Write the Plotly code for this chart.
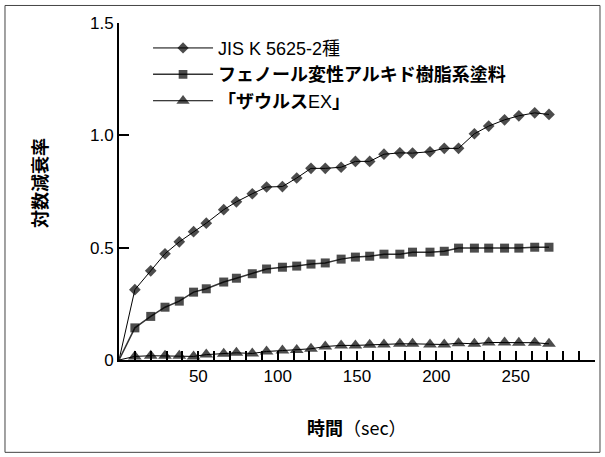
import plotly.graph_objects as go

# ---- data ----
time_sec = [0, 10, 20, 29, 38, 47, 55, 66, 74, 84, 93, 103, 112, 121, 130, 140,
            149, 158, 167, 177, 185, 196, 205, 214, 224, 233, 243, 252, 262, 271]

jis_values = [0, 0.313, 0.397, 0.473, 0.526, 0.571, 0.609, 0.669, 0.704, 0.740,
              0.770, 0.772, 0.810, 0.853, 0.853, 0.858, 0.884, 0.884, 0.916,
              0.922, 0.921, 0.927, 0.942, 0.942, 1.007, 1.041, 1.069, 1.087,
              1.100, 1.093]

phenol_values = [0, 0.143, 0.194, 0.235, 0.262, 0.302, 0.317, 0.347, 0.364,
                 0.384, 0.405, 0.413, 0.418, 0.427, 0.432, 0.449, 0.458, 0.462,
                 0.471, 0.471, 0.480, 0.480, 0.484, 0.498, 0.498, 0.498, 0.498,
                 0.498, 0.502, 0.502]

zaurus_values = [0, 0.016, 0.019, 0.019, 0.019, 0.016, 0.024, 0.028, 0.032,
                 0.029, 0.038, 0.042, 0.045, 0.050, 0.060, 0.065, 0.065, 0.068,
                 0.069, 0.072, 0.072, 0.069, 0.069, 0.075, 0.072, 0.078, 0.078,
                 0.077, 0.077, 0.072]

series_names = ["JIS K 5625-2種", "<b>フェノール変性アルキド樹脂系塗料</b>", "<b>「ザウルス</b>EX<b>」</b>"]

x_tick_vals = list(range(0, 301, 10))
x_tick_text = [str(v) if v in (50, 100, 150, 200, 250) else "" for v in x_tick_vals]
y_tick_vals = [0, 0.5, 1.0, 1.5]
y_tick_text = ["0", "0.5", "1.0", "1.5"]

FONT = "Liberation Sans, Arial, Noto Sans CJK JP, sans-serif"
CJK = "Noto Sans CJK JP, Liberation Sans, sans-serif"

def sizes(n, s):
    return [0] + [s] * (n - 1)

fig = go.Figure()
fig.add_trace(go.Scatter(
    x=time_sec, y=jis_values, name=series_names[0], mode="lines+markers",
    line=dict(color="black", width=1),
    marker=dict(symbol="diamond", color="black", size=sizes(len(time_sec), 9),
                line=dict(width=0))))
fig.add_trace(go.Scatter(
    x=time_sec, y=phenol_values, name=series_names[1], mode="lines+markers",
    line=dict(color="#333333", width=1.5),
    marker=dict(symbol="square", color="black", size=sizes(len(time_sec), 9),
                line=dict(width=0))))
fig.add_trace(go.Scatter(
    x=time_sec, y=zaurus_values, name=series_names[2], mode="lines+markers",
    line=dict(color="black", width=1),
    marker=dict(symbol="triangle-up", color="black", size=sizes(len(time_sec), 12),
                line=dict(width=0))))

fig.update_layout(
    template="none",
    width=605, height=457,
    margin=dict(l=119, r=10, t=23, b=97),
    paper_bgcolor="white", plot_bgcolor="white",
    font=dict(family=FONT, size=17, color="black"),
    showlegend=True,
    legend=dict(x=0.061, y=0.98, xanchor="left", yanchor="top",
                bgcolor="rgba(0,0,0,0)", font=dict(family=FONT, size=18),
                itemwidth=60, tracegroupgap=0),
    xaxis=dict(range=[0, 300], tickmode="array", tickvals=x_tick_vals,
               ticktext=x_tick_text, ticks="inside", ticklen=9, tickwidth=2,
               tickcolor="#000000", showline=True, linecolor="black",
               linewidth=2, showgrid=False, zeroline=False,
               tickfont=dict(size=17), layer="above traces"),
    yaxis=dict(range=[0, 1.5], tickmode="array", tickvals=y_tick_vals,
               ticktext=y_tick_text, ticks="inside", ticklen=10, tickwidth=2,
               tickcolor="#000000", showline=True, linecolor="black",
               linewidth=2, showgrid=False, zeroline=False,
               tickfont=dict(size=17), layer="above traces"),
    annotations=[
        dict(text="<b>時間</b>（sec）", xref="paper", yref="paper",
             x=0.5, y=-0.2, xanchor="center", yanchor="middle", showarrow=False,
             font=dict(family=CJK, size=18)),
        dict(text="<b>対数減衰率</b>", xref="paper", yref="paper",
             x=-0.168, y=0.525, xanchor="center", yanchor="middle", showarrow=False,
             textangle=-90, font=dict(family=CJK, size=18)),
    ],
    shapes=[
        dict(type="rect", xref="paper", yref="paper",
             x0=-0.2395, x1=1.0105, y0=-0.274, y1=1.052,
             line=dict(color="#444444", width=1)),
    ],
)

fig.write_html("out.html", config={"displayModeBar": False},
               post_script="document.body.style.margin='0';")
